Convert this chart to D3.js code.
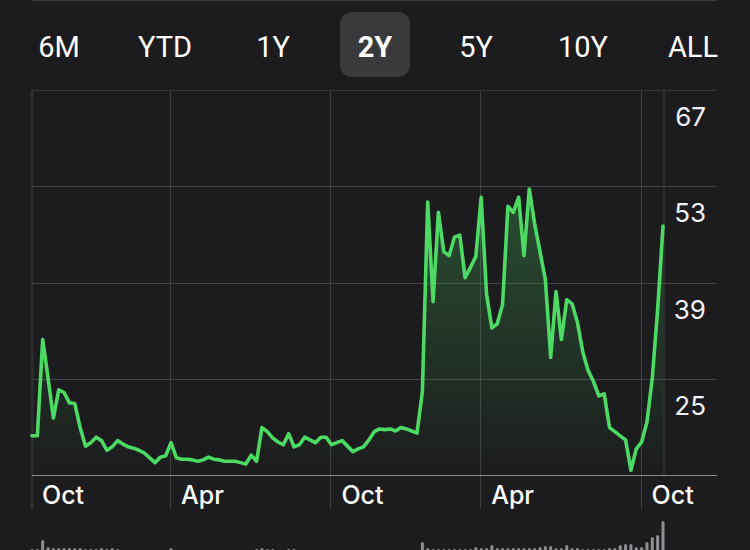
<!DOCTYPE html>
<html><head><meta charset="utf-8">
<script src="https://cdn.jsdelivr.net/npm/d3@7"></script>
<style>html,body{margin:0;padding:0;background:#1c1c1e;overflow:hidden}</style>
</head><body><svg id="c" width="750" height="550"></svg>
<script>
const tabs = ["6M","YTD","1Y","2Y","5Y","10Y","ALL"];
const activeTab = "2Y";
const prices = [
16.7,16.7,30.7,25.1,19.3,23.4,23.0,21.5,21.4,17.9,
15.2,15.7,16.5,16.0,14.6,15.1,16.0,15.5,15.1,14.9,
14.6,14.2,13.5,12.8,13.6,13.8,15.7,13.5,13.3,13.3,
13.2,13.0,13.2,13.6,13.3,13.2,13.0,13.0,13.0,12.8,
12.6,13.9,13.0,17.9,17.3,16.4,15.8,15.4,17.0,15.1,
15.4,16.5,16.1,15.7,16.5,16.5,15.4,15.7,16.0,15.2,
14.4,14.8,15.1,16.1,17.3,17.7,17.6,17.7,17.4,17.9,
17.7,17.4,17.1,23.1,50.7,36.2,49.2,43.5,42.9,45.6,
45.9,39.7,41.2,42.8,51.4,37.3,32.4,33.0,35.8,50.1,
49.2,51.4,42.9,52.6,47.5,43.5,39.4,28.1,37.7,30.7,
36.5,35.9,33.2,28.9,26.2,24.6,22.5,22.8,17.9,17.3,
16.7,16.1,11.7,14.8,15.8,18.7,25.1,35.1,47.2
];
const volumes = [
7,7,16,9,8,8,8,8,8,8,
7,7,7,8,7,8,7,6,6,6,
5,5,5,5,6,6,8,6,5,5,
5,5,5,5,5,5,5,5,5,5,
5,6,7,8,7,7,6,6,7,7,
6,5,5,5,5,5,5,5,5,5,
5,5,5,5,5,5,5,5,5,5,
5,5,5,14,8,7,7,7,7,7,
7,7,7,9,8,8,11,8,8,8,
8,8,8,8,8,9,10,10,8,8,
11,8,8,7,7,7,7,7,8,8,
11,12,12,9,9,14,19,21,35
];
const xTickIndex = [0, 26, 56, 84, 114];
const xTickLabels = ["Oct","Apr","Oct","Apr","Oct"];
const yTicks = [25, 39, 53, 67];
const yMin = 11, yMax = 67;

(function () {
const svg = d3.select("#c");
const W = 750, H = 550;
const pL = 32, pR = 717, pT = 90, pB = 475, lastX = 663;

svg.append("rect").attr("width", W).attr("height", H).attr("fill", "#1c1c1e");

const defs = svg.append("defs");
const grad = defs.append("linearGradient").attr("id", "g").attr("gradientUnits", "userSpaceOnUse")
  .attr("x1", 0).attr("x2", 0).attr("y1", 190).attr("y2", pB);
grad.append("stop").attr("offset", 0).attr("stop-color", "#4cd964").attr("stop-opacity", 0.27);
grad.append("stop").attr("offset", 1).attr("stop-color", "#4cd964").attr("stop-opacity", 0.0);

// tab bar
svg.append("line").attr("x1", pL).attr("x2", pR).attr("y1", 0.5).attr("y2", 0.5)
  .attr("stroke", "#3a3a3c").attr("stroke-width", 1);
const tx = d3.scaleOrdinal().domain(tabs).range([59, 165, 273, 375, 476, 583, 693]);
svg.append("rect").attr("x", tx(activeTab) - 35).attr("y", 12).attr("width", 70).attr("height", 65)
  .attr("rx", 12).attr("fill", "#3a3a3c");
svg.selectAll("text.tab").data(tabs).join("text").attr("class", "tab")
  .attr("x", d => tx(d)).attr("y", 57).attr("text-anchor", "middle")
  .attr("font-family", "Roboto, 'Noto Sans', sans-serif").attr("font-size", 29)
  .attr("font-weight", d => d === activeTab ? 700 : 400)
  .attr("fill", "#ffffff").text(d => d);

const x = d3.scaleLinear().domain([0, prices.length - 1]).range([pL, lastX]);
const y = d3.scaleLinear().domain([yMin, yMax]).range([pB, pT]);

// grid
const g = svg.append("g");
g.append("line").attr("x1", pL).attr("x2", pL).attr("y1", pT).attr("y2", 509)
  .attr("stroke", "#2f2f31").attr("stroke-width", 3);
g.selectAll("line.vx").data(xTickIndex.slice(1)).join("line").attr("class", "vx")
  .attr("x1", d => Math.round(x(d)) - 0.5).attr("x2", d => Math.round(x(d)) - 0.5).attr("y1", pT).attr("y2", 509)
  .attr("stroke", "#3f3f42").attr("stroke-width", 1);
g.selectAll("line.hy").data(yTicks).join("line").attr("class", "hy")
  .attr("x1", pL).attr("x2", pR).attr("y1", d => Math.round(y(d)) + 0.5).attr("y2", d => Math.round(y(d)) + 0.5)
  .attr("stroke", d => d === yMax ? "#38383a" : "#434346").attr("stroke-width", 1);
g.append("line").attr("x1", x(prices.length - 1) + 1).attr("x2", x(prices.length - 1) + 1)
  .attr("y1", pT).attr("y2", pB).attr("stroke", "#3f3f42");

// volume bars
const yv = d3.scaleLinear().domain([0, 40]).range([556, 516]);
svg.selectAll("rect.vol").data(volumes).join("rect").attr("class", "vol")
  .attr("x", (d, i) => x(i) - 1.5).attr("width", 3)
  .attr("y", d => yv(d)).attr("height", d => yv(0) - yv(d))
  .attr("rx", 1.5).attr("fill", "#8e8e93");

// area + line
const area = d3.area().x((d, i) => x(i)).y0(pB).y1(d => y(d));
svg.append("path").datum(prices).attr("d", area).attr("fill", "url(#g)");
const line = d3.line().x((d, i) => x(i)).y(d => y(d));
svg.append("path").datum(prices).attr("d", line).attr("fill", "none")
  .attr("stroke", "#4cd964").attr("stroke-width", 3.6).attr("stroke-linejoin", "round").attr("stroke-linecap", "round");

// baseline
svg.append("line").attr("x1", pL).attr("x2", pR).attr("y1", pB + 0.5).attr("y2", pB + 0.5)
  .attr("stroke", "#8e8e93").attr("stroke-width", 1.2);

// y labels
svg.selectAll("text.yl").data(yTicks).join("text").attr("class", "yl")
  .attr("x", 706).attr("y", d => y(d) + 36).attr("text-anchor", "end")
  .attr("font-family", "Inter, Roboto, sans-serif").attr("font-size", 26)
  .attr("fill", "#f2f2f7").text(d => d);

// x labels
svg.selectAll("text.xl").data(xTickIndex).join("text").attr("class", "xl")
  .attr("x", d => x(d) + 10).attr("y", 504)
  .attr("font-family", "Inter, Roboto, sans-serif").attr("font-size", 25).attr("font-weight", 500)
  .attr("fill", "#ffffff").text((d, i) => xTickLabels[i]);
})();
</script>
</body></html>
